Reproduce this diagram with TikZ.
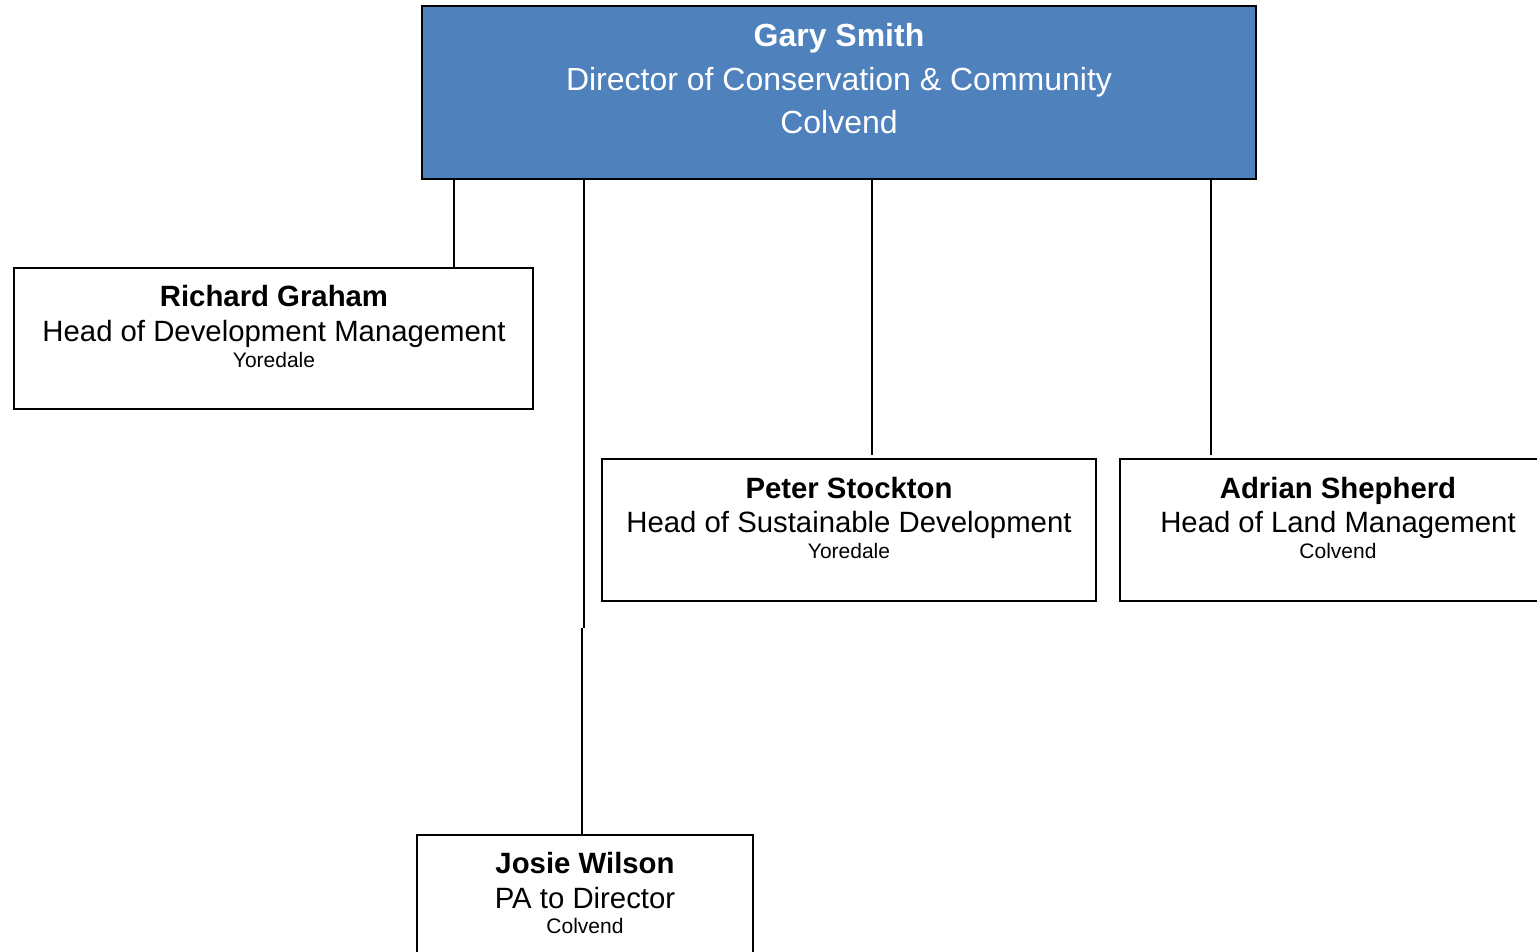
\documentclass[tikz,border=0pt]{standalone}
\usepackage{fontspec}
\setmainfont{Liberation Sans}

\definecolor{headblue}{RGB}{79,129,189}

\tikzset{every picture/.style={line width=1.5pt}}
\tikzset{
  box/.style={draw, line width=1.5pt, inner sep=0pt, outer sep=0pt},
  link/.style={draw, line width=1.5pt},
  topname/.style={anchor=base, inner sep=0pt, text=white, font=\fontsize{24}{28}\selectfont\bfseries},
  toptext/.style={anchor=base, inner sep=0pt, text=white, font=\fontsize{24}{28}\selectfont},
  pname/.style={anchor=base, inner sep=0pt, font=\fontsize{22}{26}\selectfont\bfseries},
  prole/.style={anchor=base, inner sep=0pt, font=\fontsize{22}{26}\selectfont},
  pplace/.style={anchor=base, inner sep=0pt, font=\fontsize{15.75}{19}\selectfont}
}

\begin{document}
\begin{tikzpicture}[x=0.75pt,y=0.75pt,yscale=-1,xscale=1]
\useasboundingbox (0,0) rectangle (1537,952);
\clip (0,0) rectangle (1537,952);

%Boxes
\node [box, fill=headblue, minimum width=625.5pt, minimum height=129.75pt] (gs) at (839,92.5) {};
\node [box, minimum width=389.25pt, minimum height=105.75pt] (rg) at (273.5,338.5) {};
\node [box, minimum width=370.5pt, minimum height=106.5pt] (ps) at (849,530) {};
\node [box, minimum width=327pt, minimum height=106.5pt] (as) at (1338,530) {};
\node [box, minimum width=252pt, minimum height=105.75pt] (jw) at (585,905.5) {};

%Connectors
\coordinate (x1) at (454,0);
\coordinate (x2) at (872,0);
\coordinate (x3) at (1211,0);
\coordinate (pa1) at (584,628);
\coordinate (pa2) at (582,628);
\draw [link] (gs.south -| x1) -- (rg.north -| x1);
\draw [link, shorten >=3pt] (gs.south -| x2) -- (ps.north -| x2);
\draw [link, shorten >=3pt] (gs.south -| x3) -- (as.north -| x3);
\draw [link] (gs.south -| pa1) -- (pa1); % PA line, upper part
\draw [link] (pa2) -- (jw.north -| pa2);

% Text Node
\node [topname] (gs-name) at (839,47) {Gary Smith};
\node [toptext] (gs-role) at (839,91) {Director of Conservation \& Community};
\node [toptext] (gs-place) at (839,134) {Colvend};
% Text Node
\node [pname] (rg-name) at (274,306) {Richard Graham};
\node [prole] (rg-role) at (274,341) {Head of Development Management};
\node [pplace] (rg-place) at (274,367) {Yoredale};
% Text Node
\node [pname] (ps-name) at (849,498) {Peter Stockton};
\node [prole] (ps-role) at (849,532) {Head of Sustainable Development};
\node [pplace] (ps-place) at (849,558) {Yoredale};
% Text Node
\node [pname] (as-name) at (1338,498) {Adrian Shepherd};
\node [prole] (as-role) at (1338,532) {Head of Land Management};
\node [pplace] (as-place) at (1338,558) {Colvend};
% Text Node
\node [pname] (jw-name) at (585,873) {Josie Wilson};
\node [prole] (jw-role) at (585,908) {PA to Director};
\node [pplace] (jw-place) at (585,933) {Colvend};

\end{tikzpicture}
\end{document}
